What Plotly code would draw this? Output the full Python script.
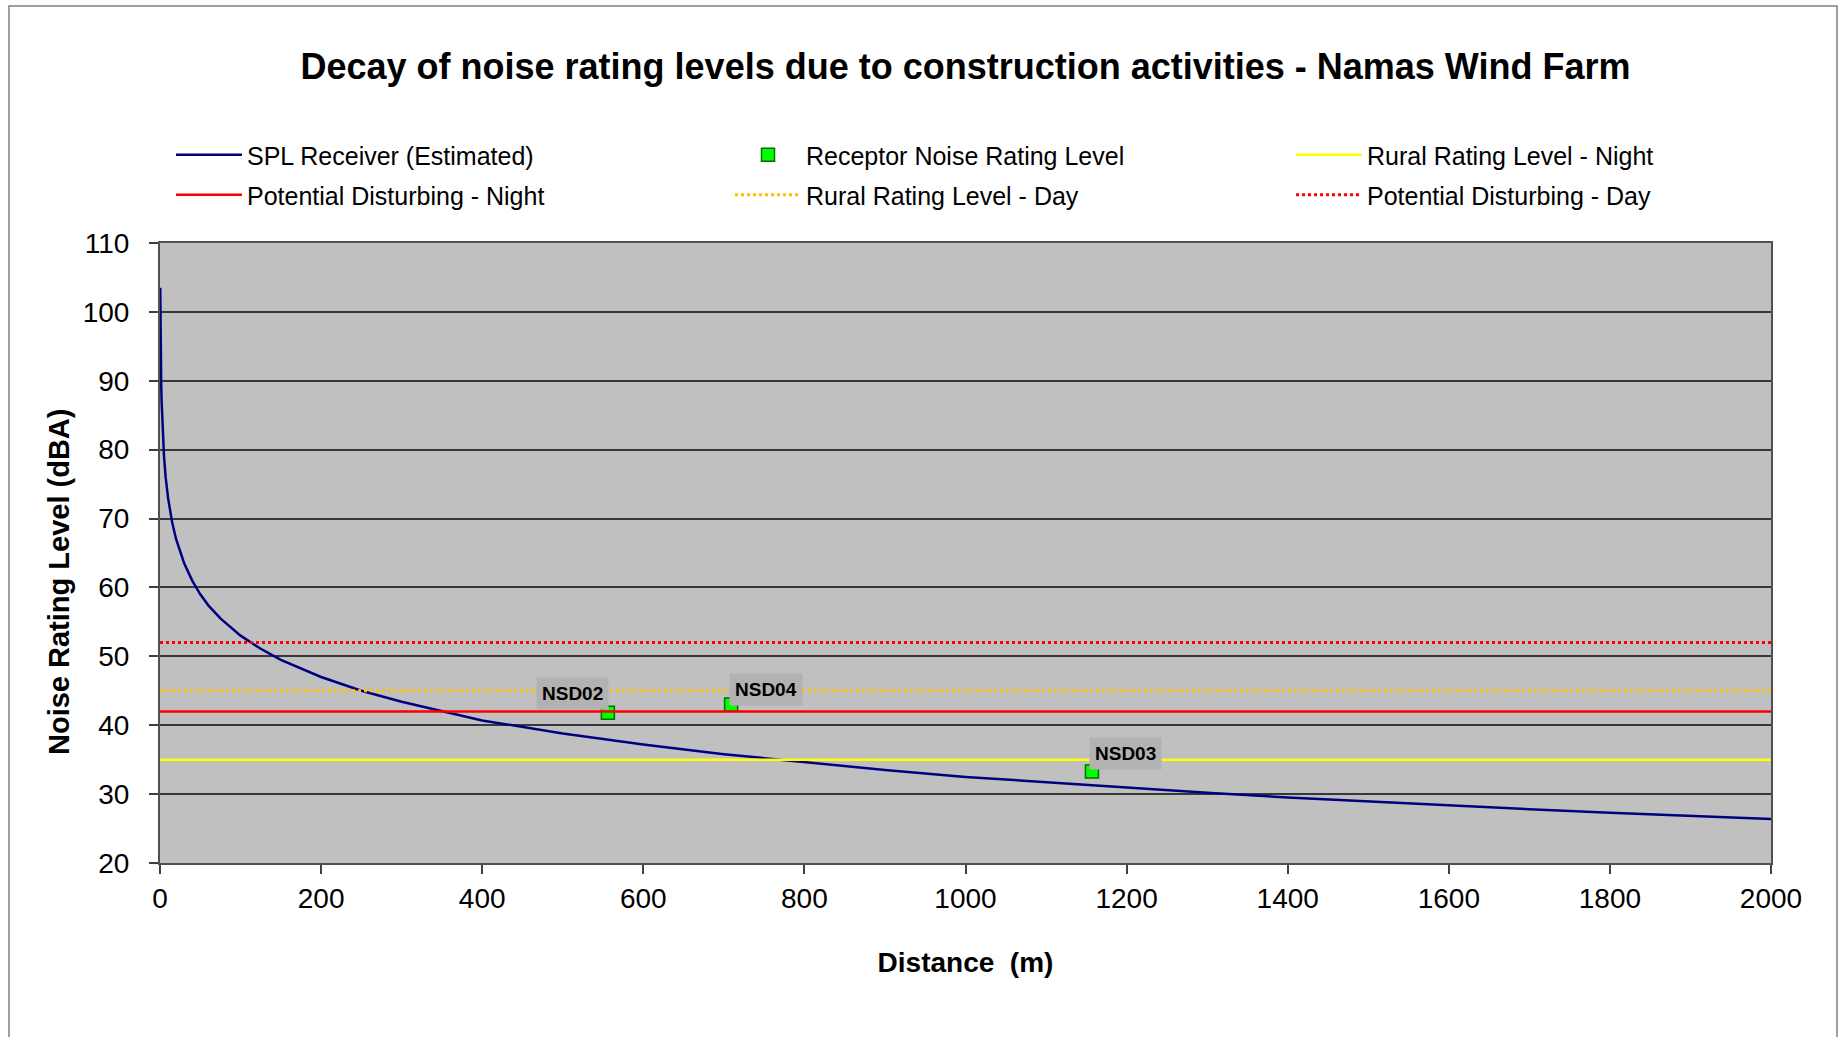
import plotly.graph_objects as go

# SPL curve
distance_m = [0.3, 0.5, 1, 1.5, 2, 3, 4, 5, 7, 10, 15, 20, 30, 40, 50, 60, 75, 100, 125, 150, 200,
              250, 300, 350, 400, 500, 600, 700, 800, 900, 1000, 1100, 1200, 1300, 1400, 1500, 1600,
              1700, 1800, 1900, 2000]
spl_dba = [103.5, 99, 93, 89.5, 87, 83.5, 81, 79, 76, 73, 69.5, 67, 63.5, 61, 59, 57.4, 55.5, 53,
           51.1, 49.5, 47, 45, 43.4, 42, 40.7, 38.8, 37.2, 35.8, 34.6, 33.5, 32.5, 31.7, 30.9, 30.2,
           29.5, 28.9, 28.4, 27.8, 27.3, 26.8, 26.4]

receptor_names = ["NSD02", "NSD04", "NSD03"]
receptor_dist = [556, 709, 1157]
receptor_level = [41.8, 43.0, 33.3]

line_x = [0, 2000]
rural_night = 35
rural_day = 45
pot_night = 42
pot_day = 52

x_ticks = [0, 200, 400, 600, 800, 1000, 1200, 1400, 1600, 1800, 2000]
y_ticks = [20, 30, 40, 50, 60, 70, 80, 90, 100, 110]

FONT = "Liberation Sans, Arial, sans-serif"
W, H = 1844, 1037
PL, PR, PT, PB = 160, 1771, 243, 863  # plot area in pixels

fig = go.Figure()
fig.add_trace(go.Scatter(x=distance_m, y=spl_dba, mode="lines", name="SPL Receiver (Estimated)",
                         line=dict(color="#000080", width=2.5), legend="legend"))
fig.add_trace(go.Scatter(x=receptor_dist, y=receptor_level, mode="markers",
                         name="Receptor Noise Rating Level",
                         marker=dict(symbol="square", size=13, color="#00FF00",
                                     line=dict(color="#007000", width=1.5)), legend="legend2"))
fig.add_trace(go.Scatter(x=line_x, y=[rural_night] * 2, mode="lines", name="Rural Rating Level - Night",
                         line=dict(color="#FFFF00", width=2.5), legend="legend3"))
fig.add_trace(go.Scatter(x=line_x, y=[pot_night] * 2, mode="lines", name="Potential Disturbing - Night",
                         line=dict(color="#FF0000", width=2.5), legend="legend4"))
fig.add_trace(go.Scatter(x=line_x, y=[rural_day] * 2, mode="lines", name="Rural Rating Level - Day",
                         line=dict(color="#FFC000", width=3, dash="dot"), legend="legend5"))
fig.add_trace(go.Scatter(x=line_x, y=[pot_day] * 2, mode="lines", name="Potential Disturbing - Day",
                         line=dict(color="#FF0000", width=3, dash="dot"), legend="legend6"))

shifts = {"NSD02": (-35, 19), "NSD04": (35, 15), "NSD03": (34, 18)}
for n, xv, yv in zip(receptor_names, receptor_dist, receptor_level):
    dx, dy = shifts[n]
    fig.add_annotation(x=xv, y=yv, xref="x", yref="y", text="<b>" + n + "</b>", showarrow=False,
                       xshift=dx, yshift=dy, bgcolor="#B2B2B2", borderpad=5,
                       font=dict(family=FONT, size=19, color="black"))

# y axis title
fig.add_annotation(x=(59 - PL) / (PR - PL), y=(PB - 582) / (PB - PT), xref="paper", yref="paper",
                   showarrow=False, text="<b>Noise Rating Level (dBA)</b>", textangle=-90,
                   xanchor="center", yanchor="middle",
                   font=dict(family=FONT, size=29, color="black"))

# outer chart frame
fig.add_shape(type="rect", xref="paper", yref="paper",
              x0=(9 - PL) / (PR - PL), x1=(1837 - PL) / (PR - PL),
              y0=(PB - 1100) / (PB - PT), y1=(PB - 6) / (PB - PT),
              line=dict(color="#808080", width=1.5), layer="below")


def leg(xpx, ypx):
    return dict(orientation="v", xref="container", yref="container", xanchor="left",
                yanchor="middle", x=xpx / W, y=1 - ypx / H, itemwidth=66,
                font=dict(family=FONT, size=25, color="black"), bgcolor="rgba(0,0,0,0)")


fig.update_layout(
    width=W, height=H,
    paper_bgcolor="white", plot_bgcolor="#C0C0C0",
    margin=dict(l=PL, r=W - PR, t=PT, b=H - PB, autoexpand=False),
    title=dict(text="<b>Decay of noise rating levels due to construction activities - Namas Wind Farm</b>",
               x=0.5, xref="paper", y=1 - 66 / H, yref="container", xanchor="center", yanchor="middle",
               font=dict(family=FONT, size=36, color="black")),
    legend=leg(171, 155),
    legend2=leg(730, 155),
    legend3=leg(1291, 155),
    legend4=leg(171, 195),
    legend5=leg(730, 195),
    legend6=leg(1291, 195),
    showlegend=True,
    xaxis=dict(range=[0, 2000], tickvals=x_ticks, showgrid=False, zeroline=False,
               showline=True, linecolor="#505050", linewidth=2, mirror=True,
               ticks="outside", ticklen=9, tickcolor="#404040", tickwidth=1.5,
               ticklabelstandoff=0,
               tickfont=dict(family=FONT, size=28, color="black"),
               title=dict(text="<b>Distance  (m)</b>", standoff=40,
                          font=dict(family=FONT, size=28, color="black"))),
    yaxis=dict(range=[20, 110], tickvals=y_ticks, showgrid=True, gridcolor="#383838", gridwidth=1.5,
               zeroline=False, showline=True, linecolor="#505050", linewidth=2, mirror=True,
               ticks="outside", ticklen=9, tickcolor="#404040", tickwidth=1.5,
               ticklabelstandoff=14,
               tickfont=dict(family=FONT, size=28, color="black")),
)

fig.write_html("out.html", config={"displayModeBar": False},
               post_script="document.body.style.margin='0px';document.body.style.overflow='hidden';")
